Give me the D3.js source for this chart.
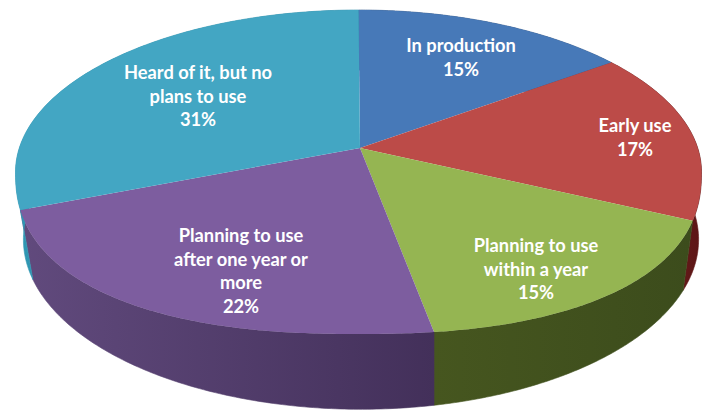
<!DOCTYPE html>
<html>
<head>
<meta charset="utf-8">
<script src="https://cdn.jsdelivr.net/npm/d3@7/dist/d3.min.js"></script>
<style>
html,body{margin:0;padding:0;background:#fff}
svg{display:block}
text{font-family:Lato,"Open Sans",sans-serif;font-weight:700;fill:#fff;text-anchor:middle;font-size:18.3px}
</style>
</head>
<body>
<svg id="chart" width="703" height="410"></svg>
<script>
const categories = ["In production", "Early use", "Planning to use within a year", "Planning to use after one year or more", "Heard of it, but no plans to use"];
const shares = [15, 17, 15, 22, 31];
const labelLines = [
  ["In production", "15%"],
  ["Early use", "17%"],
  ["Planning to use", "within a year", "15%"],
  ["Planning to use", "after one year or", "more", "22%"],
  ["Heard of it, but no", "plans to use", "31%"]
];
const topColors = ["#4779b8", "#bc4b48", "#95b552", "#7d5d9f", "#43a6c3"];
const sideStops = [
  ["#2c5488", "#2c5488"],
  ["#7a2422", "#5c1616"],
  ["#46561f", "#3c4c1c"],
  ["#614a7d", "#43305a"],
  ["#2f97b3", "#2a8aa6"]
];
const labelAnchors = [[461, 52], [635, 132], [536, 252], [241, 242], [198, 79]];

const svg = d3.select("#chart");
const defs = svg.append("defs");

// Perspective projection of the tilted disc: k foreshortens the far edge.
const k = 0.1455;
const project = (plane, angle) => {
  const u = Math.sin(angle), v = Math.cos(angle), w = 1 + k * v;
  const x = plane.cx + plane.s * u / w, y = plane.cy - plane.a * v / w;
  if (plane.square === 2) return [x, y];
  // Squares off the near half of the rim, around the centre of the projected outline.
  const ex = (x - plane.cx) / plane.rx, ey = (y - plane.my) / plane.ry;
  const n = ey > 0 ? plane.square : 2;
  const r = Math.pow(Math.pow(Math.abs(ex), n) + Math.pow(Math.abs(ey), n), -1 / n);
  return [plane.cx + plane.rx * ex * r, plane.my + plane.ry * ey * r];
};
const topPlane = {cx: 358.5, cy: 148, s: 339, a: 158, rx: 343, my: 172, ry: 162, square: 2.35};
const basePlane = {cx: 361, cy: 215, s: 334, a: 166, square: 2};

const arcs = d3.pie().sort(null).value(d => d)(shares);
const line = d3.line();
const sweep = (plane, a0, a1) => d3.range(0, 121).map(i => project(plane, a0 + (a1 - a0) * i / 120));

// Outer wall, drawn first so the top face sits over it.
arcs.forEach((d, i) => {
  const gid = "side" + i;
  const xs = sweep(topPlane, d.startAngle, d.endAngle).map(p => p[0]);
  const g = defs.append("linearGradient").attr("id", gid)
    .attr("gradientUnits", "userSpaceOnUse")
    .attr("x1", d3.min(xs)).attr("x2", d3.max(xs)).attr("y1", 0).attr("y2", 0);
  g.append("stop").attr("offset", 0).attr("stop-color", sideStops[i][0]);
  g.append("stop").attr("offset", 1).attr("stop-color", sideStops[i][1]);
  const outline = sweep(topPlane, d.startAngle, d.endAngle)
    .concat(sweep(basePlane, d.startAngle, d.endAngle).reverse());
  svg.append("path").attr("d", line(outline) + "Z").attr("fill", `url(#${gid})`)
    .attr("stroke", `url(#${gid})`).attr("stroke-width", 0.6);
});

// Top face wedges.
const apex = [360, topPlane.cy];
arcs.forEach((d, i) => {
  svg.append("path")
    .attr("class", "slice")
    .attr("d", line([apex].concat(sweep(topPlane, d.startAngle, d.endAngle))) + "Z")
    .attr("fill", topColors[i]);
});

// Labels in the wedges.
labelLines.forEach((lines, i) => {
  const t = svg.append("text").attr("aria-label", categories[i]);
  lines.forEach((s, j) => {
    t.append("tspan").attr("x", labelAnchors[i][0]).attr("y", labelAnchors[i][1] + j * 23.7).text(s);
  });
});
</script>
</body>
</html>
